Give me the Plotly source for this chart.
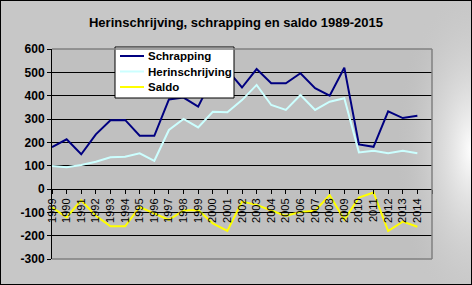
import base64
import plotly.graph_objects as go

# ---- data ----
years = [1989, 1990, 1991, 1992, 1993, 1994, 1995, 1996, 1997, 1998, 1999, 2000, 2001,
         2002, 2003, 2004, 2005, 2006, 2007, 2008, 2009, 2010, 2011, 2012, 2013, 2014]
schrapping = [179, 213, 149, 234, 295, 296, 228, 228, 384, 392, 353, 478, 510,
              435, 514, 453, 453, 496, 432, 400, 520, 191, 181, 333, 304, 314]
herinschrijving = [99, 93, 103, 117, 136, 138, 153, 121, 253, 300, 264, 331, 329,
                   381, 446, 360, 339, 403, 339, 374, 389, 157, 164, 153, 164, 153]
saldo = [-78, -122, -48, -115, -160, -160, -77, -105, -132, -92, -90, -147, -180,
         -54, -68, -92, -115, -98, -93, -26, -132, -37, -15, -180, -140, -162]

series_names = ["Schrapping", "Herinschrijving", "Saldo"]
series_colors = ["#000080", "#CCFFFF", "#FFFF00"]

x_tickvals = years + [2015]
x_ticktext = [str(y) for y in years] + [""]
y_tickvals = [-300, -200, -100, 0, 100, 200, 300, 400, 500, 600]
y_ticktext = ["-300", "-200", "-100", "0", "100", "200", "300", "400", "500", "600"]

title_text = "Herinschrijving, schrapping en saldo 1989-2015"

# ---- layout geometry ----
W, H = 472, 285
PL, PR, PT, PB = 52, 432, 49, 259   # plot area pixel box
xdom = [PL / W, PR / W]
ydom = [(H - PB) / H, (H - PT) / H]
ymin, ymax = -300, 600
zero_pos = ydom[0] + (ydom[1] - ydom[0]) * (0 - ymin) / (ymax - ymin)


def px(x):
    return x / W


def py(y):
    return (H - y) / H


# background gradient (white glow on the right edge)
svg = (
    '<svg xmlns="http://www.w3.org/2000/svg" width="472" height="285">'
    '<defs><radialGradient id="g" cx="0" cy="0" r="1" gradientUnits="userSpaceOnUse" '
    'gradientTransform="translate(472,150) scale(75,170)">'
    '<stop offset="0" stop-color="#ffffff" stop-opacity="1"/>'
    '<stop offset="1" stop-color="#c4c4c4" stop-opacity="0"/>'
    '</radialGradient></defs>'
    '<rect width="472" height="285" fill="url(#g)"/></svg>'
)
svg_uri = "data:image/svg+xml;base64," + base64.b64encode(svg.encode()).decode()

fig = go.Figure()
for name, vals, col in zip(series_names, [schrapping, herinschrijving, saldo], series_colors):
    fig.add_trace(go.Scatter(x=years, y=vals, mode="lines", name=name,
                             line=dict(color=col, width=2), showlegend=False))

# ---- legend box drawn as shapes/annotations ----
LX0, LX1, LY0, LY1 = 115, 234, 47, 98
row_y = [56, 71.5, 87]
shapes = [
    dict(type="rect", xref="paper", yref="paper", x0=px(LX0), x1=px(LX1), y0=py(LY1), y1=py(LY0),
         fillcolor="white", line=dict(color="black", width=1), layer="above"),
]
annotations = []
for name, col, ry in zip(series_names, series_colors, row_y):
    shapes.append(dict(type="line", xref="paper", yref="paper", x0=px(120), x1=px(144),
                       y0=py(ry), y1=py(ry), line=dict(color=col, width=2), layer="above"))
    annotations.append(dict(text=name, xref="paper", yref="paper", x=px(145.5), y=py(ry),
                            xanchor="left", yanchor="middle", showarrow=False,
                            font=dict(family="Arial", size=11.5, color="black", weight="bold")))

shapes += [
    # plot-area border (top, right, bottom) in grey
    dict(type="line", xref="paper", yref="paper", x0=xdom[0], x1=xdom[1], y0=ydom[1], y1=ydom[1],
         line=dict(color="#808080", width=1.5), layer="above"),
    dict(type="line", xref="paper", yref="paper", x0=xdom[1], x1=xdom[1], y0=ydom[0], y1=ydom[1],
         line=dict(color="#808080", width=1.5), layer="above"),
    dict(type="line", xref="paper", yref="paper", x0=xdom[0], x1=xdom[1], y0=ydom[0], y1=ydom[0],
         line=dict(color="#808080", width=1.5), layer="above"),
    # outer black frame
    dict(type="rect", xref="paper", yref="paper", x0=0, x1=1, y0=0, y1=1,
         line=dict(color="black", width=2), layer="above"),
]

fig.update_layout(
    template="none",
    width=W, height=H, autosize=False,
    margin=dict(l=0, r=0, t=0, b=0, pad=0),
    paper_bgcolor="#c7c7c7",
    plot_bgcolor="#c0c0c0",
    showlegend=False,
    title=dict(text=title_text, x=0.5, xanchor="center", y=1 - 22 / H, yanchor="middle",
               automargin=False,
               font=dict(family="Arial", size=13, color="black", weight="bold")),
    xaxis=dict(domain=xdom, range=[1989, 2015], tickmode="array",
               tickvals=x_tickvals, ticktext=x_ticktext, tickangle=-90,
               ticks="outside", ticklen=4, tickcolor="black", tickwidth=1,
               showgrid=False, zeroline=False, showline=False, automargin=False,
               anchor="free", position=zero_pos,
               tickfont=dict(family="Arial", size=11, color="black")),
    yaxis=dict(domain=ydom, range=[ymin, ymax], tickmode="array",
               tickvals=y_tickvals, ticktext=y_ticktext,
               ticks="outside", ticklen=4, tickcolor="black", tickwidth=1,
               showgrid=True, gridcolor="black", gridwidth=1, automargin=False,
               zeroline=False, showline=True, linecolor="black", linewidth=1,
               tickfont=dict(family="Arial", size=12, color="black", weight="bold")),
    images=[dict(source=svg_uri, xref="paper", yref="paper", x=0, y=1,
                 sizex=1, sizey=1, xanchor="left", yanchor="top",
                 sizing="stretch", layer="below")],
    shapes=shapes,
    annotations=annotations,
)

fig.write_html("out.html")
